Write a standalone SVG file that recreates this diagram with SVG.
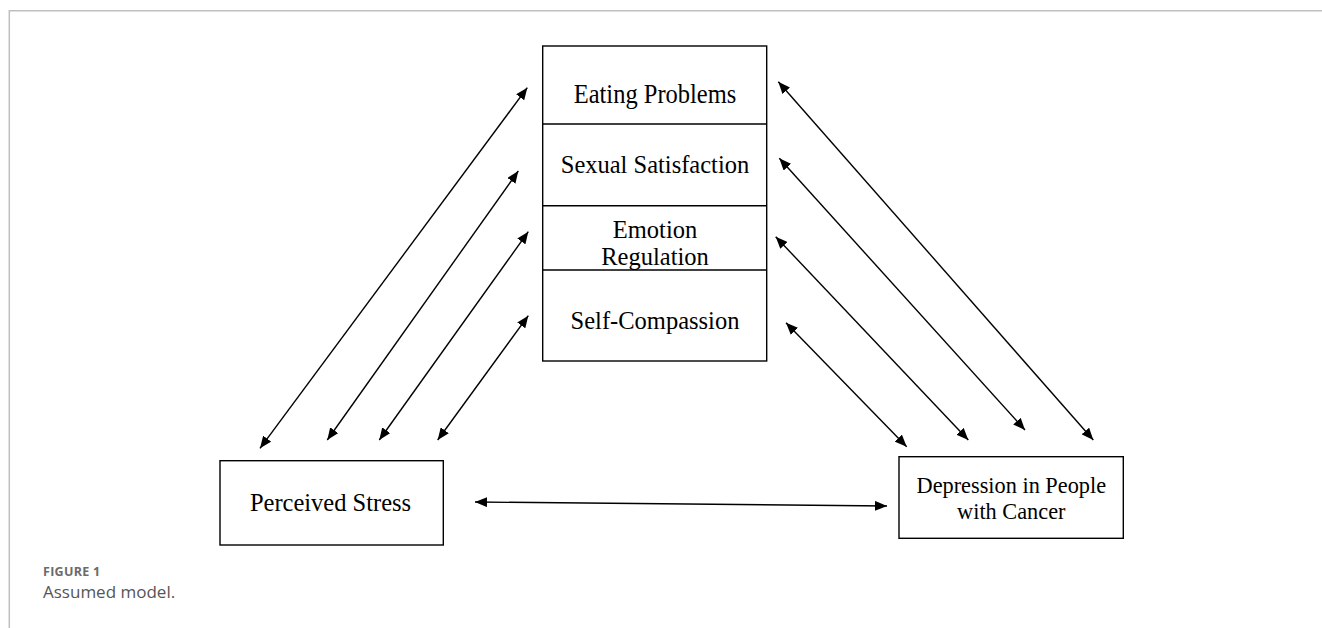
<svg xmlns="http://www.w3.org/2000/svg" width="1322" height="628" viewBox="0 0 1322 628">
  <defs>
    <style>
      .box { fill: #fff; stroke: #000; stroke-width: 1.4; }
      .div { stroke: #000; stroke-width: 1.4; }
      .lbl { font-family: "Liberation Serif", "Times New Roman", serif; font-size: 24.5px; fill: #000; text-anchor: middle; }
      .lbl2 { font-family: "Liberation Serif", "Times New Roman", serif; font-size: 22.3px; fill: #000; text-anchor: middle; }
      .conn line { stroke: #000; stroke-width: 1.4; marker-start: url(#ah); marker-end: url(#ah); }
      .frame { stroke: #bfbfbf; stroke-width: 1.5; fill: none; }
      .capb { font-family: "Open Sans", "Noto Sans", sans-serif; font-size: 12.5px; font-weight: bold; fill: #6b6b6b; letter-spacing: 0.3px; }
      .capt { font-family: "Open Sans", "Noto Sans", sans-serif; font-size: 17px; fill: #555; }
    </style>
    <marker id="ah" viewBox="0 0 12 10" refX="12" refY="5" markerWidth="12" markerHeight="10" markerUnits="userSpaceOnUse" orient="auto-start-reverse">
      <path d="M0,0 L12,5 L0,10 z" fill="#000"/>
    </marker>
  </defs>

  <g id="frame">
    <path class="frame" d="M9.3,628 L9.3,10.7 L1322,10.7"/>
  </g>

  <g id="mediators">
    <rect class="box" x="542.7" y="46" width="224" height="315"/>
    <line class="div" x1="542.7" y1="124" x2="766.7" y2="124"/>
    <line class="div" x1="542.7" y1="205.7" x2="766.7" y2="205.7"/>
    <line class="div" x1="542.7" y1="270" x2="766.7" y2="270"/>
  </g>
  <g id="eating-problems">
    <text class="lbl" transform="translate(655,103.3) scale(1,1.15)" x="0" y="0">Eating Problems</text>
  </g>
  <g id="sexual-satisfaction">
    <text class="lbl" x="655" y="173.3">Sexual Satisfaction</text>
  </g>
  <g id="emotion-regulation">
    <text class="lbl" x="655" y="238">Emotion</text>
    <text class="lbl" x="655" y="264.5">Regulation</text>
  </g>
  <g id="self-compassion">
    <text class="lbl" x="655" y="329.3">Self-Compassion</text>
  </g>

  <g id="perceived-stress">
    <rect class="box" x="220" y="460.7" width="223.3" height="84.3"/>
    <text class="lbl" x="330.5" y="511">Perceived Stress</text>
  </g>

  <g id="depression">
    <rect class="box" x="899" y="456.7" width="224.3" height="81.6"/>
    <text class="lbl2" x="1011.3" y="493">Depression in People</text>
    <text class="lbl2" x="1011.3" y="519">with Cancer</text>
  </g>

  <g id="connectors" class="conn">
    <line x1="260" y1="448.3" x2="527.3" y2="87.7"/>
    <line x1="327.3" y1="440" x2="518.3" y2="171"/>
    <line x1="379.3" y1="440" x2="528.3" y2="231.7"/>
    <line x1="437.7" y1="440" x2="528.3" y2="315.7"/>
    <line x1="778.3" y1="81.7" x2="1093.3" y2="440"/>
    <line x1="779.3" y1="158.3" x2="1025" y2="430"/>
    <line x1="775.7" y1="236.7" x2="968.3" y2="440"/>
    <line x1="786" y1="322.7" x2="906.7" y2="446.7"/>
    <line x1="475" y1="502" x2="887" y2="506"/>
  </g>

  <g id="caption">
    <text class="capb" x="43" y="576">FIGURE 1</text>
    <text class="capt" x="43" y="598">Assumed model.</text>
  </g>
</svg>
